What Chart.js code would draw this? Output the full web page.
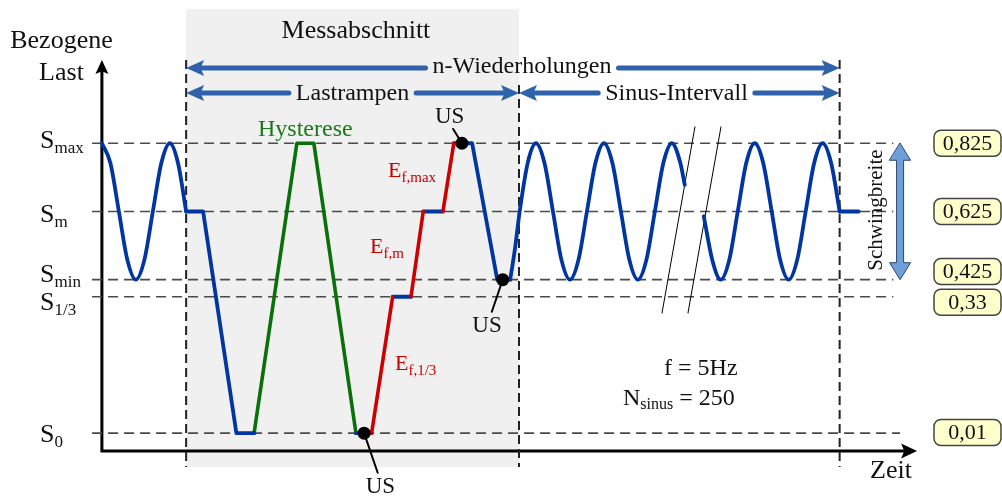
<!DOCTYPE html>
<html lang="de">
<head>
<meta charset="UTF-8" />
<title>Messabschnitt – Lastrampen und Sinus-Intervall</title>
<script src="https://cdn.jsdelivr.net/npm/chart.js"></script>
<style>
  html, body { margin: 0; padding: 0; background: #fff; }
  #wrap { width: 1002px; height: 498px; }
</style>
</head>
<body>
<div id="wrap"><canvas id="chart" width="1002" height="498"></canvas></div>
<script>
// load levels: schematic height (S_m = 0, amplitude = 1) and the real values
const levelNames = ['max', 'm', 'min', '1/3', '0'];
const levelPos = [1, 0, -1, -1.25, -3.25];
const levelValues = ['0,825', '0,625', '0,425', '0,33', '0,01'];

// time in sine periods, 0 = load axis
const sine1T = [0, 0.125, 0.25, 0.375, 0.5, 0.625, 0.75, 0.875, 1, 1.12, 1.24];
const sine1Y = [1, 0.71, 0, -0.71, -1, -0.71, 0, 0.71, 1, 0.71, 0];
const sine2T = [6.01, 6.08, 6.15, 6.27, 6.39, 6.515, 6.64, 6.765, 6.89, 7.015, 7.14, 7.265, 7.39, 7.515, 7.64, 7.765, 7.89, 8.015, 8.14, 8.265, 8.39, 8.515, 8.58];
const sine2Y = [-1, -0.55, 0, 0.72, 1, 0.71, 0, -0.71, -1, -0.71, 0, 0.71, 1, 0.71, 0, -0.71, -1, -0.71, 0, 0.71, 1, 0.71, 0.39];
const sine3T = [8.86, 8.985, 9.11, 9.235, 9.36, 9.485, 9.61, 9.735, 9.86, 9.985, 10.11, 10.235, 10.36, 10.485, 10.61, 10.735, 10.86];
const sine3Y = [-0.07, -0.71, -1, -0.71, 0, 0.71, 1, 0.71, 0, -0.71, -1, -0.71, 0, 0.71, 1, 0.71, 0];

// straight parts (null = gap)
const blueT = [1.24, 1.49, 1.98, 2.24, null, 3.74, 3.97, null, 4.28, 4.55, null, 4.73, 5.02, null, 5.18, 5.45, 5.82, 6.01, null, 10.86, 11.14];
const blueY = [0, 0, -3.25, -3.25, null, -3.25, -3.25, null, -1.25, -1.25, null, 0, 0, null, 1, 1, -1, -1, null, 0, 0];
const greenT = [2.24, 2.87, 3.12, 3.74];
const greenY = [-3.25, 1, 1, -3.25];
const redT = [3.97, 4.28, null, 4.55, 4.73, null, 5.02, 5.18];
const redY = [-3.25, -1.25, null, -1.25, 0, null, 0, 1];

// US markers and their label leaders
const usT = [3.86, 5.30, 5.90];
const usY = [-3.25, 1, -1];
const usLeadT = [4.06, 5.17, 5.74];
const usLeadY = [-3.83, 1.21, -1.47];

// section borders
const sectionT = [1.24, 6.14, 10.86];
const sectionTop = [2.22, 1.855, 2.22];
const sectionBottom = -3.745;
const panelTop = 2.97;

// guides, axes, break marks
const guideStart = -0.145;
const guideEnd = [11.65, 11.65, 11.65, 11.65, 11.75];
const axisTop = 2.22;
const axisBase = -3.51;
const timeEnd = 12.0;
const breakT0 = [8.245, 8.627];
const breakT1 = [8.73, 9.113];
const breakBottom = -1.49;
const breakTop = 1.24;

const serif = '"Liberation Serif", "Times New Roman", serif';
const curveBlue = '#0035a2';
const arrowBlue = '#2e62aa';

function pts(ts, ys) {
  return ts.map((t, i) => ({ x: t === null ? ts[i - 1] : t, y: ys[i] }));
}

function head(ctx, x, y, ang, len, half) {
  ctx.save();
  ctx.translate(x, y);
  ctx.rotate(ang);
  ctx.beginPath();
  ctx.moveTo(0, 0);
  ctx.lineTo(-len, -half);
  ctx.lineTo(-len * 0.8, 0);
  ctx.lineTo(-len, half);
  ctx.closePath();
  ctx.fill();
  ctx.restore();
}

function subText(ctx, main, sub, x, y, size, subSize, drop) {
  ctx.textAlign = 'left';
  ctx.font = size + 'px ' + serif;
  ctx.fillText(main, x, y);
  const w = ctx.measureText(main).width;
  ctx.font = subSize + 'px ' + serif;
  ctx.fillText(sub, x + w, y + drop);
  return x + w + ctx.measureText(sub).width;
}

const diagram = {
  id: 'diagram',
  beforeDatasetsDraw(chart) {
    const ctx = chart.ctx;
    const X = t => chart.scales.x.getPixelForValue(t);
    const Y = v => chart.scales.y.getPixelForValue(v);
    ctx.save();
    ctx.fillStyle = '#f0f0f0';
    ctx.fillRect(X(sectionT[0]), Y(panelTop), X(sectionT[1]) - X(sectionT[0]), Y(sectionBottom) - Y(panelTop));

    ctx.strokeStyle = '#000';
    ctx.fillStyle = '#000';
    ctx.lineWidth = 3;
    ctx.lineJoin = 'miter';
    ctx.beginPath();
    ctx.moveTo(X(0), Y(axisTop) + 10);
    ctx.lineTo(X(0), Y(axisBase));
    ctx.lineTo(X(timeEnd) - 10, Y(axisBase));
    ctx.stroke();
    head(ctx, X(0), Y(axisTop), -Math.PI / 2, 14, 6.5);
    head(ctx, X(timeEnd), Y(axisBase), 0, 16, 7.5);
    ctx.restore();
  },
  afterDatasetsDraw(chart) {
    const ctx = chart.ctx;
    const X = t => chart.scales.x.getPixelForValue(t);
    const Y = v => chart.scales.y.getPixelForValue(v);
    ctx.save();
    ctx.textBaseline = 'alphabetic';

    // span arrows
    function span(t0, t1, v, label, cx, base) {
      ctx.font = '24px ' + serif;
      const w = ctx.measureText(label).width;
      const x0 = X(t0), x1 = X(t1), y = Y(v), c = X(cx);
      ctx.strokeStyle = arrowBlue;
      ctx.fillStyle = arrowBlue;
      ctx.lineWidth = 5;
      ctx.lineCap = 'round';
      ctx.beginPath();
      ctx.moveTo(x0 + 12, y);
      ctx.lineTo(c - w / 2 - 7, y);
      ctx.moveTo(c + w / 2 + 7, y);
      ctx.lineTo(x1 - 12, y);
      ctx.stroke();
      head(ctx, x0, y, Math.PI, 18, 8);
      head(ctx, x1, y, 0, 18, 8);
      ctx.fillStyle = '#111';
      ctx.textAlign = 'center';
      ctx.fillText(label, c, Y(base));
    }
    span(sectionT[0], sectionT[2], 2.103, 'n-Wiederholungen', 6.184, 2.03);
    span(sectionT[0], sectionT[1], 1.737, 'Lastrampen', 3.689, 1.634);
    span(sectionT[1], sectionT[2], 1.737, 'Sinus-Intervall', 8.459, 1.634);

    // titles
    ctx.fillStyle = '#111';
    ctx.textAlign = 'center';
    ctx.font = '26px ' + serif;
    ctx.fillText('Bezogene', X(-0.595), Y(2.396));
    ctx.fillText('Last', X(-0.595), Y(1.927));
    ctx.fillText('Messabschnitt', X(3.74), Y(2.543));
    ctx.textAlign = 'left';
    ctx.fillText('Zeit', X(11.308), Y(-3.907));

    // level labels
    const sBase = [0.931, -0.154, -1.033, -1.444, -3.379];
    levelNames.forEach((n, i) => subText(ctx, 'S', n, X(-0.911), Y(sBase[i]), 26, 17, 5));

    // ramp labels
    ctx.fillStyle = '#1a7a1a';
    ctx.font = '24px ' + serif;
    ctx.fillText('Hysterese', X(2.298), Y(1.107));
    ctx.fillStyle = '#c80000';
    subText(ctx, 'E', 'f,max', X(4.212), Y(0.505), 22, 15, 5);
    subText(ctx, 'E', 'f,m', X(3.946), Y(-0.609), 22, 15, 5);
    subText(ctx, 'E', 'f,1/3', X(4.314), Y(-2.324), 22, 15, 5);

    // US labels
    ctx.fillStyle = '#111';
    ctx.textAlign = 'center';
    ctx.font = '23px ' + serif;
    ctx.fillText('US', X(4.10), Y(-4.127));
    ctx.fillText('US', X(5.12), Y(1.297));
    ctx.fillText('US', X(5.67), Y(-1.767));

    // sine parameters
    ctx.textAlign = 'left';
    ctx.font = '24px ' + serif;
    ctx.fillText('f = 5Hz', X(8.275), Y(-2.397));
    const nx = subText(ctx, 'N', 'sinus', X(7.671), Y(-2.837), 24, 16, 4);
    ctx.font = '24px ' + serif;
    ctx.fillText(' = 250', nx, Y(-2.837));

    // value boxes
    const boxPos = [1, 0, -0.88, -1.33, -3.24];
    levelValues.forEach((val, i) => {
      const cx = X(12.742), cy = Y(boxPos[i]);
      ctx.beginPath();
      ctx.roundRect(cx - 33.5, cy - 13, 67, 26, 7);
      ctx.fillStyle = '#ffffcc';
      ctx.fill();
      ctx.lineWidth = 1.5;
      ctx.strokeStyle = '#444';
      ctx.stroke();
      ctx.fillStyle = '#111';
      ctx.textAlign = 'center';
      ctx.textBaseline = 'middle';
      ctx.font = '22px ' + serif;
      ctx.fillText(val, cx, cy + 1);
      ctx.textBaseline = 'alphabetic';
    });

    // Schwingbreite block arrow
    const ax = X(11.75), yt = Y(levelPos[0]), yb = Y(levelPos[2]);
    const hl = 17, hw = 10.5, sw = 3.5;
    ctx.beginPath();
    ctx.moveTo(ax, yt);
    ctx.lineTo(ax + hw, yt + hl);
    ctx.lineTo(ax + sw, yt + hl);
    ctx.lineTo(ax + sw, yb - hl);
    ctx.lineTo(ax + hw, yb - hl);
    ctx.lineTo(ax, yb);
    ctx.lineTo(ax - hw, yb - hl);
    ctx.lineTo(ax - sw, yb - hl);
    ctx.lineTo(ax - sw, yt + hl);
    ctx.lineTo(ax - hw, yt + hl);
    ctx.closePath();
    ctx.fillStyle = '#6f9fd8';
    ctx.fill();
    ctx.lineWidth = 1;
    ctx.strokeStyle = '#2a4470';
    ctx.stroke();

    ctx.save();
    ctx.translate(X(11.396), Y(0.02));
    ctx.rotate(-Math.PI / 2);
    ctx.fillStyle = '#111';
    ctx.textAlign = 'center';
    ctx.textBaseline = 'middle';
    ctx.font = '21px ' + serif;
    ctx.fillText('Schwingbreite', 0, 0);
    ctx.restore();

    ctx.restore();
  }
};

const line = (data, color, width, extra) => Object.assign({
  data, borderColor: color, backgroundColor: color, borderWidth: width,
  pointRadius: 0, fill: false, tension: 0, borderJoinStyle: 'round', borderCapStyle: 'round'
}, extra || {});

const datasets = [];
levelPos.forEach((v, i) => datasets.push(line(
  [{ x: guideStart, y: v }, { x: guideEnd[i], y: v }], '#4a4a4a', 1.7,
  { borderDash: [10, 6], borderCapStyle: 'butt', order: 5 })));
sectionT.forEach((t, i) => datasets.push(line(
  [{ x: t, y: sectionTop[i] }, { x: t, y: sectionBottom }], '#222', 2,
  { borderDash: [9, 5], borderCapStyle: 'butt', order: 5 })));
breakT0.forEach((t, i) => datasets.push(line(
  [{ x: t, y: breakBottom }, { x: breakT1[i], y: breakTop }], '#000', 1, { order: 4 })));

const smooth = { cubicInterpolationMode: 'monotone', order: 2 };
datasets.push(line(pts(sine1T, sine1Y), curveBlue, 3.8, smooth));
datasets.push(line(pts(sine2T, sine2Y), curveBlue, 3.8, smooth));
datasets.push(line(pts(sine3T, sine3Y), curveBlue, 3.8, smooth));
datasets.push(line(pts(blueT, blueY), curveBlue, 3.8, { order: 2 }));
datasets.push(line(pts(greenT, greenY), '#0a700a', 3.6, { order: 2 }));
datasets.push(line(pts(redT, redY), '#cc0000', 3.6, { order: 1 }));

usT.forEach((t, i) => datasets.push(line(
  [{ x: t, y: usY[i] }, { x: usLeadT[i], y: usLeadY[i] }], '#000', 2, { order: 0 })));
datasets.push(line(pts(usT, usY), '#000', 0, { showLine: false, pointRadius: 6.5, pointBorderWidth: 0, order: 0 }));

new Chart(document.getElementById('chart'), {
  type: 'line',
  data: { datasets },
  options: {
    responsive: false,
    animation: false,
    events: [],
    layout: { padding: 0, autoPadding: false },
    plugins: { legend: { display: false }, tooltip: { enabled: false } },
    scales: {
      x: { type: 'linear', min: -1.5, max: 13.25, display: false },
      y: { type: 'linear', min: -4.2, max: 3.1, display: false }
    }
  },
  plugins: [diagram]
});
</script>
</body>
</html>
